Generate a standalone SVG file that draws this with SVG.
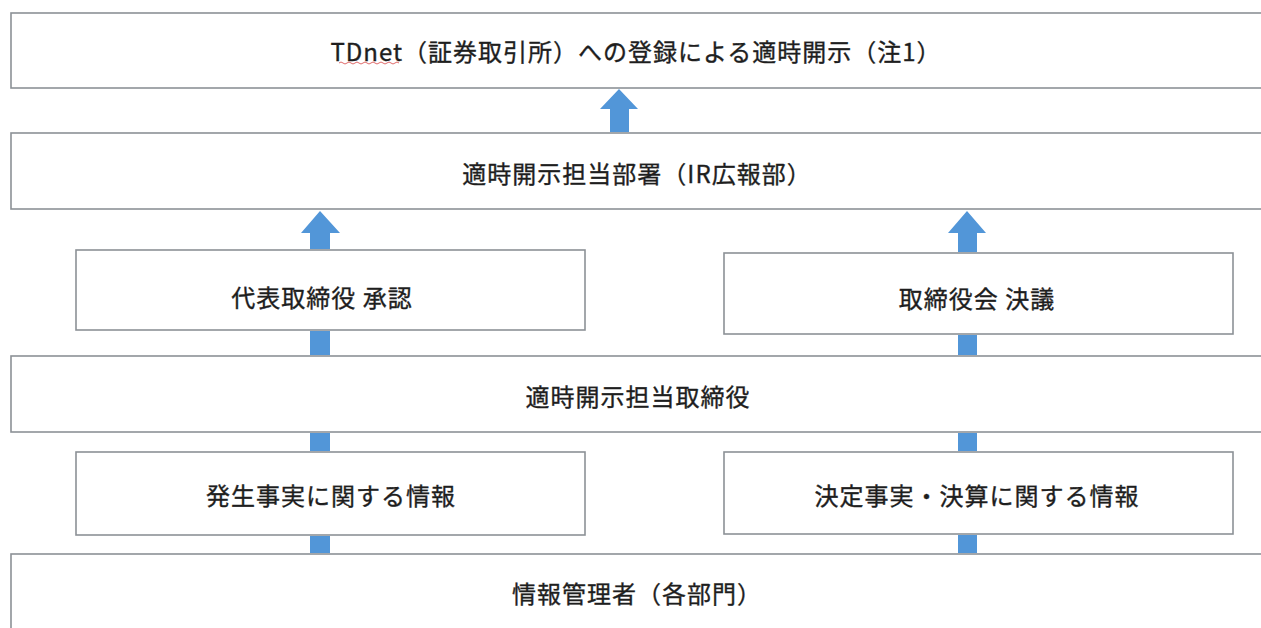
<svg xmlns="http://www.w3.org/2000/svg" width="1261" height="628" viewBox="0 0 1261 628">
<style>
.box{fill:#ffffff;stroke:#8c9196;stroke-width:1.6}
.lbl{font-family:"Noto Sans CJK JP","Noto Sans",sans-serif;font-size:24px;letter-spacing:1px;fill:#1e1e1e;stroke:#1e1e1e;stroke-width:0.35;text-anchor:middle;dominant-baseline:central}
.arw{fill:#5296d8}
</style>
<rect width="1261" height="628" fill="#ffffff"/>
<g id="node-tdnet">
<rect class="box" x="11" y="13" width="1260" height="75"/>
<text class="lbl" x="636" y="50">TDnet（証券取引所）への登録による適時開示（注1）</text>
<path d="M339 63 q2 -2 4 0 t4 0 t4 0 t4 0 t4 0 t4 0 t4 0 t4 0 t4 0 t4 0 t4 0 t4 0 t4 0 t4 0 t4 0" fill="none" stroke="#e06a6a" stroke-width="1"/>
</g>
<g id="node-ir">
<rect class="box" x="11" y="133" width="1260" height="76"/>
<text class="lbl" x="637" y="172">適時開示担当部署（IR広報部）</text>
</g>
<g id="node-ceo">
<rect class="box" x="76" y="250" width="509" height="80"/>
<text class="lbl" x="322" y="296">代表取締役 承認</text>
</g>
<g id="node-board">
<rect class="box" x="724" y="253" width="509" height="81"/>
<text class="lbl" x="977" y="297">取締役会 決議</text>
</g>
<g id="node-director">
<rect class="box" x="11" y="356" width="1260" height="76"/>
<text class="lbl" x="638" y="395">適時開示担当取締役</text>
</g>
<g id="node-occurred">
<rect class="box" x="76" y="452" width="509" height="83"/>
<text class="lbl" x="331" y="494">発生事実に関する情報</text>
</g>
<g id="node-decided">
<rect class="box" x="724" y="452" width="509" height="82"/>
<text class="lbl" x="977" y="494">決定事実・決算に関する情報</text>
</g>
<g id="node-manager">
<rect class="box" x="11" y="554" width="1260" height="90"/>
<text class="lbl" x="637" y="592">情報管理者（各部門）</text>
</g>
<g id="connectors">
<polygon class="arw" points="619,89 638,109 629,109 629,132 610,132 610,109 600,109"/>
<polygon class="arw" points="320,211 340,233 330,233 330,249 310,249 310,233 301,233"/>
<polygon class="arw" points="967,211 986,233 977,233 977,252 958,252 958,233 948,233"/>
<rect class="arw" x="310" y="331" width="20" height="24"/>
<rect class="arw" x="310" y="433" width="20" height="18"/>
<rect class="arw" x="310" y="536" width="20" height="17"/>
<rect class="arw" x="958" y="335" width="19" height="20"/>
<rect class="arw" x="958" y="433" width="19" height="18"/>
<rect class="arw" x="958" y="535" width="19" height="18"/>
</g>
</svg>
